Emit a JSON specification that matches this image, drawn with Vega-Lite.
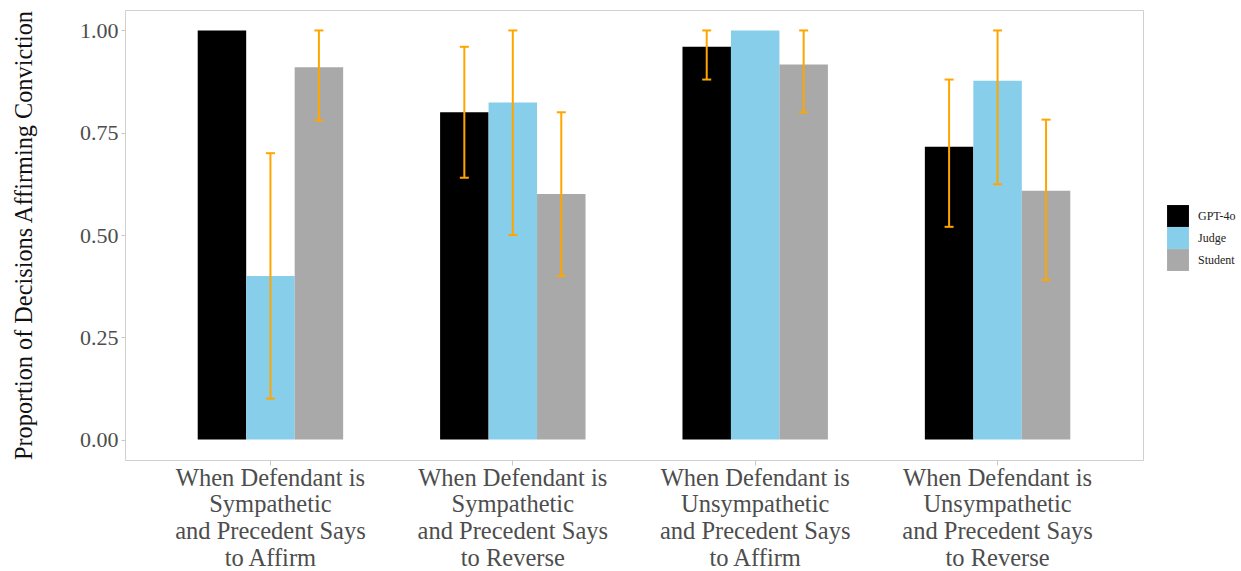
{
  "$schema": "https://vega.github.io/schema/vega-lite/v6.json",
  "width": 1018,
  "height": 450,
  "autosize": {"type": "none"},
  "padding": {"left": 125, "top": 10, "right": 98, "bottom": 111},
  "background": "white",
  "config": {
    "font": "Liberation Serif",
    "view": {"stroke": "#d0d0d0", "strokeWidth": 1}
  },
  "data": {
    "values": [
      {"condition": "When Defendant is|Sympathetic|and Precedent Says|to Affirm", "group": "GPT-4o", "value": 1.0, "lower": null, "upper": null},
      {"condition": "When Defendant is|Sympathetic|and Precedent Says|to Affirm", "group": "Judge", "value": 0.40, "lower": 0.10, "upper": 0.70},
      {"condition": "When Defendant is|Sympathetic|and Precedent Says|to Affirm", "group": "Student", "value": 0.91, "lower": 0.78, "upper": 1.0},
      {"condition": "When Defendant is|Sympathetic|and Precedent Says|to Reverse", "group": "GPT-4o", "value": 0.80, "lower": 0.64, "upper": 0.96},
      {"condition": "When Defendant is|Sympathetic|and Precedent Says|to Reverse", "group": "Judge", "value": 0.824, "lower": 0.50, "upper": 1.0},
      {"condition": "When Defendant is|Sympathetic|and Precedent Says|to Reverse", "group": "Student", "value": 0.60, "lower": 0.40, "upper": 0.80},
      {"condition": "When Defendant is|Unsympathetic|and Precedent Says|to Affirm", "group": "GPT-4o", "value": 0.96, "lower": 0.88, "upper": 1.0},
      {"condition": "When Defendant is|Unsympathetic|and Precedent Says|to Affirm", "group": "Judge", "value": 1.0, "lower": null, "upper": null},
      {"condition": "When Defendant is|Unsympathetic|and Precedent Says|to Affirm", "group": "Student", "value": 0.917, "lower": 0.80, "upper": 1.0},
      {"condition": "When Defendant is|Unsympathetic|and Precedent Says|to Reverse", "group": "GPT-4o", "value": 0.716, "lower": 0.52, "upper": 0.88},
      {"condition": "When Defendant is|Unsympathetic|and Precedent Says|to Reverse", "group": "Judge", "value": 0.877, "lower": 0.624, "upper": 1.0},
      {"condition": "When Defendant is|Unsympathetic|and Precedent Says|to Reverse", "group": "Student", "value": 0.608, "lower": 0.39, "upper": 0.782}
    ]
  },
  "encoding": {
    "x": {
      "field": "condition",
      "type": "nominal",
      "sort": null,
      "scale": {"paddingInner": 0.4, "paddingOuter": 0.3},
      "axis": {
        "title": null,
        "labelAngle": 0,
        "labelExpr": "split(datum.value, '|')",
        "labelLimit": 0,
        "labelFont": "Liberation Serif",
        "labelFontSize": 24.5,
        "labelColor": "#4d4d4d",
        "labelLineHeight": 26.7,
        "labelPadding": 1,
        "labelBaseline": "top",
        "domain": false,
        "tickColor": "#c8c8c8",
        "tickSize": 5,
        "grid": false
      }
    },
    "xOffset": {"field": "group", "type": "nominal", "scale": {"paddingInner": 0, "paddingOuter": 0}}
  },
  "layer": [
    {
      "mark": {"type": "bar"},
      "encoding": {
        "y": {
          "field": "value",
          "type": "quantitative",
          "scale": {"domain": [-0.05, 1.05], "nice": false, "zero": false},
          "axis": {
            "title": "Proportion of Decisions Affirming Conviction",
            "titleFont": "Liberation Serif",
            "titleFontSize": 24.3,
            "titleFontWeight": "normal",
            "titleColor": "#111111",
            "titlePadding": 43,
            "values": [0, 0.25, 0.5, 0.75, 1],
            "format": ".2f",
            "labelFont": "Liberation Serif",
            "labelFontSize": 22,
            "labelColor": "#4d4d4d",
            "labelPadding": 3,
            "domain": false,
            "tickColor": "#c8c8c8",
            "tickSize": 4,
            "grid": false
          }
        },
        "color": {
          "field": "group",
          "type": "nominal",
          "scale": {"domain": ["GPT-4o", "Judge", "Student"], "range": ["#000000", "#87CEEB", "#A9A9A9"]},
          "legend": {
            "title": null,
            "orient": "none",
            "legendX": 1042,
            "legendY": 195,
            "symbolType": "square",
            "symbolSize": 480,
            "symbolStrokeWidth": 0,
            "symbolOpacity": 1,
            "rowPadding": 0,
            "padding": 0,
            "labelFont": "Liberation Serif",
            "labelFontSize": 12,
            "labelColor": "#222222",
            "labelOffset": 9
          }
        }
      }
    },
    {
      "transform": [{"filter": "datum.lower != null"}],
      "mark": {"type": "rule", "color": "#FFA500", "strokeWidth": 2},
      "encoding": {
        "y": {"field": "lower", "type": "quantitative"},
        "y2": {"field": "upper"}
      }
    },
    {
      "transform": [{"filter": "datum.lower != null"}],
      "mark": {"type": "tick", "color": "#FFA500", "size": 9, "thickness": 2, "opacity": 1},
      "encoding": {"y": {"field": "lower", "type": "quantitative"}}
    },
    {
      "transform": [{"filter": "datum.lower != null"}],
      "mark": {"type": "tick", "color": "#FFA500", "size": 9, "thickness": 2, "opacity": 1},
      "encoding": {"y": {"field": "upper", "type": "quantitative"}}
    }
  ]
}
